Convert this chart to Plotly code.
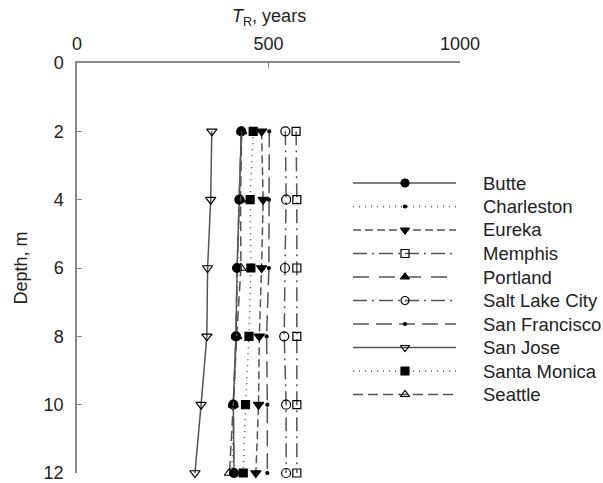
import plotly.graph_objects as go

# ---------------- data ----------------
depth = [2, 4, 6, 8, 10, 12]
cities = ["Butte", "Charleston", "Eureka", "Memphis", "Portland",
          "Salt Lake City", "San Francisco", "San Jose", "Santa Monica", "Seattle"]
butte = [429, 424, 418, 415, 408, 410]
charleston = [430, 424, 420, 416, 410, 404]
eureka = [482, 486, 482, 476, 474, 467]
memphis = [572, 574, 574, 574, 574, 574]
portland = [429, 424, 418, 415, 408, 410]
salt_lake_city = [544, 546, 543, 541, 546, 546]
san_francisco = [502, 501, 501, 495, 497, 497]
san_jose = [352, 349, 341, 339, 324, 308]
santa_monica = [460, 452, 454, 449, 440, 434]
seattle = [430, 427, 428, 417, 408, 398]
x_ticks = [0, 500, 1000]
y_ticks = [0, 2, 4, 6, 8, 10, 12]

series = [butte, charleston, eureka, memphis, portland,
          salt_lake_city, san_francisco, san_jose, santa_monica, seattle]

# ---------------- styles ----------------
LINE = "#555555"
styles = [
    dict(dash="solid", symbol="circle", size=9, fill="black"),
    dict(dash="1px,5px", symbol="circle", size=3, fill="black"),
    dict(dash="8px,4px", symbol="triangle-down", size=9, fill="black"),
    dict(dash="14px,5px,2px,5px", symbol="square-open", size=8, fill="black"),
    dict(dash="16px,10px", symbol="triangle-up", size=7, fill="black"),
    dict(dash="14px,5px,2px,5px", symbol="circle-open", size=9, fill="black"),
    dict(dash="16px,7px", symbol="circle", size=3, fill="black"),
    dict(dash="solid", symbol="triangle-down-open", size=9, fill="black"),
    dict(dash="1px,5px", symbol="square", size=8, fill="black"),
    dict(dash="10px,5px", symbol="triangle-up-open", size=9, fill="black"),
]

# drawing order (Portland underneath Butte)
draw_order = [4, 1, 0, 2, 3, 5, 6, 7, 8, 9]

fig = go.Figure()
for k in draw_order:
    name, vals, st = cities[k], series[k], styles[k]
    fig.add_trace(go.Scatter(
        x=vals, y=depth, mode="lines+markers", name=name,
        line=dict(color=LINE, width=1.5, dash=st["dash"]),
        marker=dict(symbol=st["symbol"], size=st["size"], color=st["fill"],
                    line=dict(color="black", width=1.2)),
        cliponaxis=False, showlegend=False))

# ---------------- custom legend (pixel-like overlay axes) ----------------
PL, PR, PT, PB = 77, 460, 63, 473          # plot-area pixel box
leg_x0, leg_xm, leg_x1, leg_tx = 353, 405, 456, 481
leg_y0, leg_dy = 183, 23.5
annotations = []
for i, (name, st) in enumerate(zip(cities, styles)):
    yy = leg_y0 + i * leg_dy
    fig.add_trace(go.Scatter(
        x=[leg_x0, leg_x1], y=[yy, yy], mode="lines", xaxis="x2", yaxis="y2",
        line=dict(color=LINE, width=1.5, dash=st["dash"]),
        showlegend=False, hoverinfo="skip"))
    fig.add_trace(go.Scatter(
        x=[leg_xm], y=[yy], mode="markers", xaxis="x2", yaxis="y2",
        marker=dict(symbol=st["symbol"], size=8 if st["size"] > 5 else 3,
                    color=st["fill"], line=dict(color="black", width=1.2)),
        showlegend=False, hoverinfo="skip"))
    annotations.append(dict(x=(leg_tx - PL) / (PR - PL),
                            y=1 - (yy - PT) / (PB - PT),
                            xref="paper", yref="paper", text=name,
                            showarrow=False, xanchor="left", yanchor="middle",
                            font=dict(size=18.5, color="#222222")))

annotations.append(dict(x=0.5, y=1.11, xref="paper", yref="paper",
                        text="<i>T</i><sub>R</sub>, years", showarrow=False,
                        xanchor="center", yanchor="middle",
                        font=dict(size=18, color="#222222")))
annotations.append(dict(x=-0.145, y=0.5, xref="paper", yref="paper",
                        text="Depth, m", showarrow=False, textangle=-90,
                        xanchor="center", yanchor="middle",
                        font=dict(size=18, color="#222222")))

fig.update_layout(
    width=603, height=483,
    margin=dict(l=PL, r=603 - PR, t=PT, b=483 - PB),
    paper_bgcolor="white", plot_bgcolor="white",
    font=dict(family="Liberation Sans, Arial, sans-serif", size=18, color="#222222"),
    xaxis=dict(range=[0, 1000], side="top", tickvals=x_ticks,
               showgrid=False, zeroline=False, showline=True,
               linecolor="#888888", linewidth=1.5,
               ticks="inside", ticklen=5, tickcolor="#888888",
               ticklabelstandoff=4, ticklabeloverflow="allow", automargin=False),
    yaxis=dict(range=[12, 0], tickvals=y_ticks,
               showgrid=False, zeroline=False, showline=True,
               linecolor="#888888", linewidth=1.5,
               ticks="inside", ticklen=5, tickcolor="#888888",
               ticklabelstandoff=8, ticklabeloverflow="allow", automargin=False),
    xaxis2=dict(range=[PL, PR], overlaying="x", anchor="y2", visible=False,
                fixedrange=True),
    yaxis2=dict(range=[PB, PT], overlaying="y", anchor="x2", visible=False,
                fixedrange=True),
    annotations=annotations,
)

fig.write_html("out.html")
